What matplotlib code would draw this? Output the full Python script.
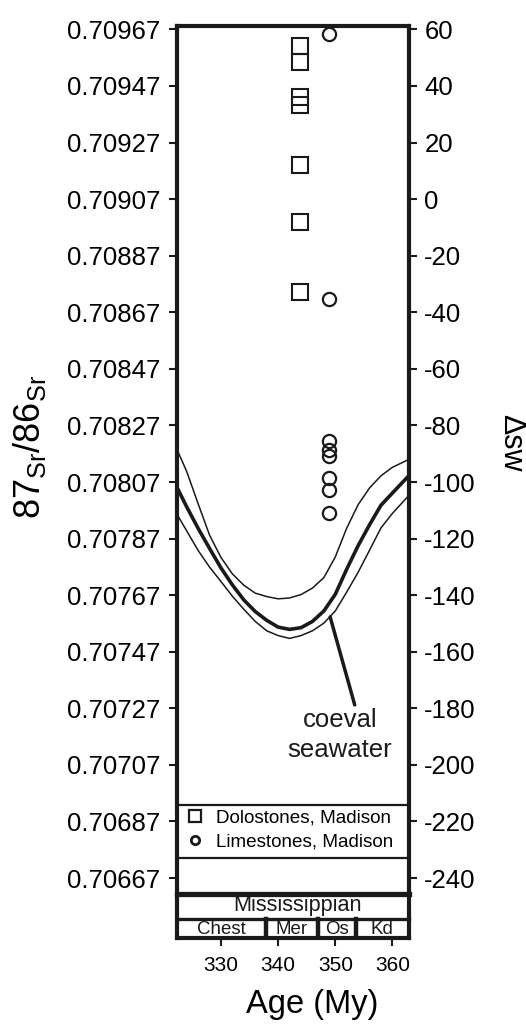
import numpy as np
import matplotlib
matplotlib.use("Agg")
import matplotlib.pyplot as plt
from matplotlib.lines import Line2D
from matplotlib.ticker import FormatStrFormatter

plt.rcParams['font.family'] = ['Liberation Sans', 'DejaVu Sans']
plt.rcParams['axes.unicode_minus'] = False

SW_REF = 0.70907  # 87Sr/86Sr where delta sw = 0 (delta = (Sr - ref) * 1e5)

# coeval seawater envelope
curve_age = [322.3, 324, 326, 328, 330, 332, 334, 336, 338, 340, 342,
             344, 346, 348, 350, 352, 354, 356, 358, 360, 362.9]
sw_upper = [0.708185, 0.708107, 0.707993, 0.707882, 0.707803, 0.707745, 0.707705,
            0.707677, 0.707665, 0.707657, 0.707660, 0.707672, 0.707695, 0.707732,
            0.707805, 0.707907, 0.707990, 0.708049, 0.708092, 0.708122, 0.708150]
sw_mid = [0.708051, 0.707982, 0.707906, 0.707835, 0.707766, 0.707706, 0.707653,
          0.707612, 0.707581, 0.707557, 0.707549, 0.707555, 0.707577, 0.707614,
          0.707673, 0.707762, 0.707845, 0.707919, 0.707988, 0.708031, 0.708093]
sw_lower = [0.707956, 0.707897, 0.707828, 0.707769, 0.707718, 0.707666, 0.707620,
            0.707577, 0.707544, 0.707527, 0.707517, 0.707527, 0.707544, 0.707571,
            0.707614, 0.707681, 0.707751, 0.707829, 0.707908, 0.707959, 0.708023]

# Madison samples
dolo_age = [343.9, 343.9, 343.9, 343.9, 343.9, 343.9, 343.9]
dolo_sr = [0.709612, 0.709555, 0.709431, 0.709403, 0.709191, 0.708989, 0.708742]
lime_age = [348.9, 348.9, 348.9, 348.9, 348.9, 348.9, 348.9, 348.9]
lime_sr = [0.709653, 0.708717, 0.708215, 0.708183, 0.708162, 0.708084, 0.708042, 0.707961]

# time scale
stage_names = ['Chest', 'Mer', 'Os', 'Kd']
stage_bounds = [322.3, 337.9, 346.9, 353.6, 362.9]

sr_ticks = [0.70967, 0.70947, 0.70927, 0.70907, 0.70887, 0.70867, 0.70847, 0.70827,
            0.70807, 0.70787, 0.70767, 0.70747, 0.70727, 0.70707, 0.70687, 0.70667]
dsw_ticks = [60, 40, 20, 0, -20, -40, -60, -80, -100, -120, -140, -160, -180, -200, -220, -240]
age_ticks = [330, 340, 350, 360]

ink = '#1a1a1a'
xlim = (322.3, 362.9)
ylim = (0.706458, 0.709682)

fig = plt.figure(figsize=(5.26, 10.24), dpi=100)
ax = fig.add_axes([177/526, 86/1024, 232/526, 912/1024])
ax.set_xlim(*xlim)
ax.set_ylim(*ylim)

ax.plot(curve_age, sw_upper, color=ink, lw=1.1)
ax.plot(curve_age, sw_mid, color=ink, lw=2.6)
ax.plot(curve_age, sw_lower, color=ink, lw=1.1)

ax.plot(dolo_age, dolo_sr, ls='none', marker='s', ms=11.5, mfc='none', mec=ink, mew=1.5)
ax.plot(lime_age, lime_sr, ls='none', marker='o', ms=9.5, mfc='none', mec=ink, mew=1.6)

# pointer + label
ax.annotate('', xy=(349.1, 0.707593), xytext=(353.4, 0.707282),
            arrowprops=dict(arrowstyle='-', lw=2.5, color=ink, shrinkA=0, shrinkB=0))
ax.text(350.8, 0.707176, 'coeval\nseawater', fontsize=18.5, ha='center', va='center',
        linespacing=1.3, color=ink)

# legend box
hands = [Line2D([], [], ls='none', marker='s', ms=9, mfc='none', mec=ink, mew=1.6),
         Line2D([], [], ls='none', marker='o', ms=6, mfc='none', mec=ink, mew=2)]
ax.legend(hands, ['Dolostones, Madison', 'Limestones, Madison'], loc='upper left',
          bbox_to_anchor=(0.017, 0.1458), borderaxespad=0, borderpad=0.25, frameon=False,
          handlelength=1.0, handletextpad=0.6, labelspacing=0.33, fontsize=13.6)

for yf, lw in [(0.1458, 1.6), (0.0877, 1.6), (0.0477, 3.8), (0.0203, 2.4)]:
    ax.plot([0, 1], [yf, yf], transform=ax.transAxes, color=ink, lw=lw, clip_on=False)
for b in stage_bounds[1:-1]:
    ax.axvline(b, ymin=0, ymax=0.0203, color=ink, lw=3.2)

ax.text(0.52, 0.0355, 'Mississippian', transform=ax.transAxes, fontsize=15.6,
        ha='center', va='center', color=ink)
for name, a, b in zip(stage_names, stage_bounds[:-1], stage_bounds[1:]):
    ax.text((a + b) / 2, 0.0095, name, transform=ax.get_xaxis_transform(),
            fontsize=13.5, ha='center', va='center', color=ink, zorder=1)

# axes styling
for sp in ax.spines.values():
    sp.set_linewidth(3)
    sp.set_color(ink)
    sp.set_zorder(5)
ax.set_yticks(sr_ticks)
ax.yaxis.set_major_formatter(FormatStrFormatter('%.5f'))
ax.set_xticks(age_ticks)
ax.tick_params(axis='y', direction='out', length=6, width=1.5, labelsize=18.5, pad=6, color=ink)
ax.tick_params(axis='x', direction='out', length=6, width=1.5, labelsize=15, pad=7, color=ink)

ax2 = ax.twinx()
ax2.set_ylim((ylim[0] - SW_REF) * 1e5, (ylim[1] - SW_REF) * 1e5)
ax2.set_yticks(dsw_ticks)
ax2.tick_params(axis='y', direction='out', length=6, width=1.5, labelsize=18.5, pad=5, color=ink)
for sp in ax2.spines.values():
    sp.set_visible(False)

fig.text(30/526, 1 - 447/1024, r'$\mathregular{87_{Sr}/86_{Sr}}$', rotation=90,
         fontsize=26, ha='center', va='center')
fig.text(511/526, 1 - 443/1024, 'Δsw', rotation=270, fontsize=22, ha='center', va='center')
fig.text(312/526, 1 - 1005/1024, 'Age (My)', fontsize=23.5, ha='center', va='center')

fig.savefig('out.png', dpi=100)
